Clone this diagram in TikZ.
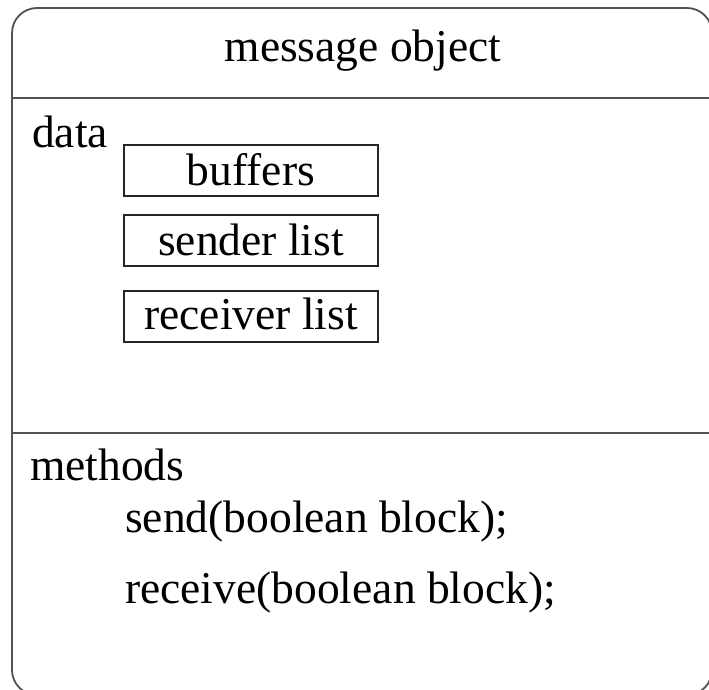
\documentclass[tikz,border=0pt]{standalone}
\usepackage{fontspec}
\setmainfont{Liberation Serif}
\begin{document}
\begin{tikzpicture}[x=1pt,y=-1pt,
  txt/.style={font=\fontsize{45.5}{50}\selectfont, inner sep=0pt, text=black},
  field/.style={draw=black!85, line width=1.6pt, minimum width=254pt,
                minimum height=51pt, inner sep=0pt},
  frame/.style={draw=black!68, line width=1.8pt},
  divider/.style={draw=black!68, line width=2.2pt}]
  % page area
  \clip (0,0) rectangle (709,690);
  \fill[white] (0,0) rectangle (709,690);

  % outer object frame with rounded corners
  \draw[frame, rounded corners=25pt] (12,8) rectangle (712,695);

  % compartment dividers
  \coordinate (d1l) at (12,98);  \coordinate (d1r) at (712,98);
  \coordinate (d2l) at (12,433); \coordinate (d2r) at (712,433);
  \draw[divider] (d1l) -- (d1r);
  \draw[divider] (d2l) -- (d2r);

  % title
  \node[txt, anchor=base] (title) at (363,62) {message object};

  % data compartment
  \node[txt, anchor=base west] (data) at (32,147) {data};
  \node[field] (buffers)  at (251,170.5) {};
  \node[field] (sender)   at (251,240.5) {};
  \node[field] (receiver) at (251,316.5) {};
  \node[txt, anchor=base] (buffersT)  at (251,185) {buffers};
  \node[txt, anchor=base] (senderT)   at (251,255) {sender list};
  \node[txt, anchor=base] (receiverT) at (251,329) {receiver list};

  % methods compartment
  \node[txt, anchor=base west] (methods) at (30,480) {methods};
  \node[txt, anchor=base west] (send)    at (125,532) {send(boolean block);};
  \node[txt, anchor=base west] (receive) at (125,603) {receive(boolean block);};
\end{tikzpicture}
\end{document}
